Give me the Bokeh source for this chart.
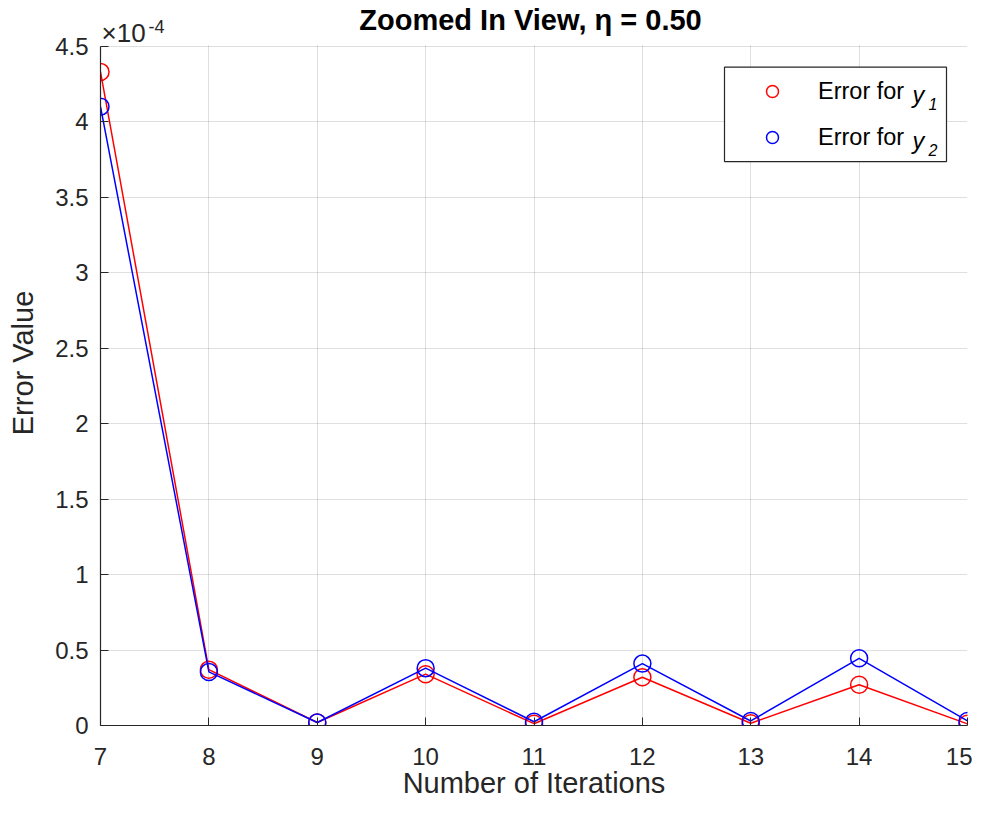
from bokeh.plotting import figure
from bokeh.models import (FixedTicker, Legend, LegendItem, Label, Range1d,
                          BoxAnnotation)
from bokeh.embed import file_html
from bokeh.resources import INLINE

# ---------------- data (errors in units of 1e-4) ----------------
iterations = [7, 8, 9, 10, 11, 12, 13, 14, 15]
err_y1 = [4.33, 0.37, 0.02, 0.34, 0.012, 0.32, 0.015, 0.27, 0.011]
err_y2 = [4.10, 0.355, 0.02, 0.38, 0.025, 0.41, 0.03, 0.445, 0.03]
x_ticks = [7, 8, 9, 10, 11, 12, 13, 14, 15]
y_ticks = [0, 0.5, 1, 1.5, 2, 2.5, 3, 3.5, 4, 4.5]
title_text = "Zoomed In View, \u03b7 = 0.50"
x_label = "Number of Iterations"
y_label = "Error Value"
exponent_base = "\u00d710"
exponent_power = "-4"
legend_text = ["Error for", "Error for"]
legend_var = ["y", "y"]
legend_sub = ["1", "2"]

FONT = "Liberation Sans"
AX = "#262626"

X0, X1 = 7, 15
Y0, Y1 = 0, 4.5

# ---------------- layout (canvas pixels) ----------------
W, H = 972, 801
F_LEFT, F_RIGHT, F_BOTTOM = 100, 967, 729   # frame edges
AX_TOP = 46                                   # pixel row of the y = 4.5 line
BL, BR, BT, BB = F_LEFT, W - F_RIGHT, 0, H - F_BOTTOM
FW, FH = W - BL - BR, H - BT - BB
# the frame reaches the canvas top so that title / exponent can live in it
Y_TOP = Y1 * FH / (FH - AX_TOP)


def xd(cx):
    """canvas x pixel -> data x"""
    return X0 + (cx - F_LEFT) * (X1 - X0) / FW


def yd(cy):
    """canvas y pixel -> data y"""
    return Y_TOP - cy * Y_TOP / FH


p = figure(width=W, height=H,
           x_range=Range1d(X0, X1), y_range=Range1d(Y0, Y_TOP),
           output_backend="svg", toolbar_location=None,
           min_border_left=BL, min_border_right=BR,
           min_border_top=BT, min_border_bottom=BB,
           background_fill_color="white", border_fill_color="white")
p.title = None
p.outline_line_color = None

# axes
for ax in (p.xaxis[0], p.yaxis[0]):
    ax.axis_line_color = AX
    ax.axis_line_width = 1.2
    ax.major_tick_line_color = AX
    ax.major_tick_in = 8
    ax.major_tick_out = 0
    ax.minor_tick_line_color = None
    ax.major_label_text_font = FONT
    ax.major_label_text_font_size = "24px"
    ax.major_label_text_color = AX
    ax.axis_label_text_font = FONT
    ax.axis_label_text_font_size = "29px"
    ax.axis_label_text_font_style = "normal"
    ax.axis_label_text_color = AX

p.xaxis.ticker = FixedTicker(ticks=x_ticks)
p.yaxis.ticker = FixedTicker(ticks=y_ticks)
p.yaxis.bounds = (Y0, Y1)
p.yaxis.major_label_overrides = {t: f"{t:g}" for t in y_ticks}
p.xaxis.axis_label = x_label
p.yaxis.axis_label = y_label
p.xaxis.major_label_standoff = 22
p.xaxis.axis_label_standoff = -1
p.yaxis.major_label_standoff = 12
p.yaxis.axis_label_standoff = 13

# grid
for g in (p.xgrid[0], p.ygrid[0]):
    g.grid_line_color = AX
    g.grid_line_alpha = 0.15
    g.grid_line_width = 1
p.xgrid.ticker = FixedTicker(ticks=x_ticks)
p.ygrid.ticker = FixedTicker(ticks=y_ticks)

# blank band above the axes box (hides grid lines above y = 4.5)
p.add_layout(BoxAnnotation(bottom=yd(AX_TOP - 1), fill_color="white",
                           fill_alpha=1, line_color=None, level="underlay"))

# legend background box
p.add_layout(BoxAnnotation(left=xd(724), right=xd(946), top=yd(67),
                           bottom=yd(162), fill_color="white", fill_alpha=1,
                           line_color=AX, line_width=1.2, line_alpha=1))

# data
p.line(iterations, err_y1, line_color="#ff0000", line_width=1.5)
r1 = p.scatter(iterations, err_y1, marker="circle", size=17,
               fill_color=None, line_color="#ff0000", line_width=1.5)
p.line(iterations, err_y2, line_color="#0000ff", line_width=1.5)
r2 = p.scatter(iterations, err_y2, marker="circle", size=17,
               fill_color=None, line_color="#0000ff", line_width=1.5)

# legend (transparent; the box above supplies frame and background)
legend = Legend(items=[LegendItem(label=legend_text[0], renderers=[r1]),
                       LegendItem(label=legend_text[1], renderers=[r2])],
                location=(634, F_BOTTOM - 156),
                padding=10, spacing=16,
                glyph_width=76, glyph_height=30, label_height=30,
                label_width=118, label_standoff=8,
                border_line_color=None, background_fill_alpha=0,
                label_text_font=FONT, label_text_font_size="23.5px",
                label_text_color="#000000")
p.add_layout(legend)

# italic variable names and subscripts in the legend
for i, cy in enumerate([95, 141]):
    p.add_layout(Label(x=xd(912), y=yd(cy), text=legend_var[i],
                       text_font=FONT, text_font_size="23.5px",
                       text_font_style="italic", text_color="#000000",
                       text_baseline="middle", text_align="left"))
    p.add_layout(Label(x=xd(928), y=yd(cy + 9), text=legend_sub[i],
                       text_font=FONT, text_font_size="16px",
                       text_font_style="italic", text_color="#000000",
                       text_baseline="middle", text_align="left"))

# title
p.add_layout(Label(x=xd(530), y=yd(20), text=title_text,
                   text_font=FONT, text_font_size="29px",
                   text_font_style="bold", text_color="#000000",
                   text_baseline="middle", text_align="center"))

# exponent label
p.add_layout(Label(x=xd(101), y=yd(33), text=exponent_base,
                   text_font=FONT, text_font_size="26px", text_color=AX,
                   text_baseline="middle", text_align="left"))
p.add_layout(Label(x=xd(148), y=yd(26), text=exponent_power,
                   text_font=FONT, text_font_size="18px", text_color=AX,
                   text_baseline="middle", text_align="left"))

open("out.html", "w").write(file_html(p, INLINE))
